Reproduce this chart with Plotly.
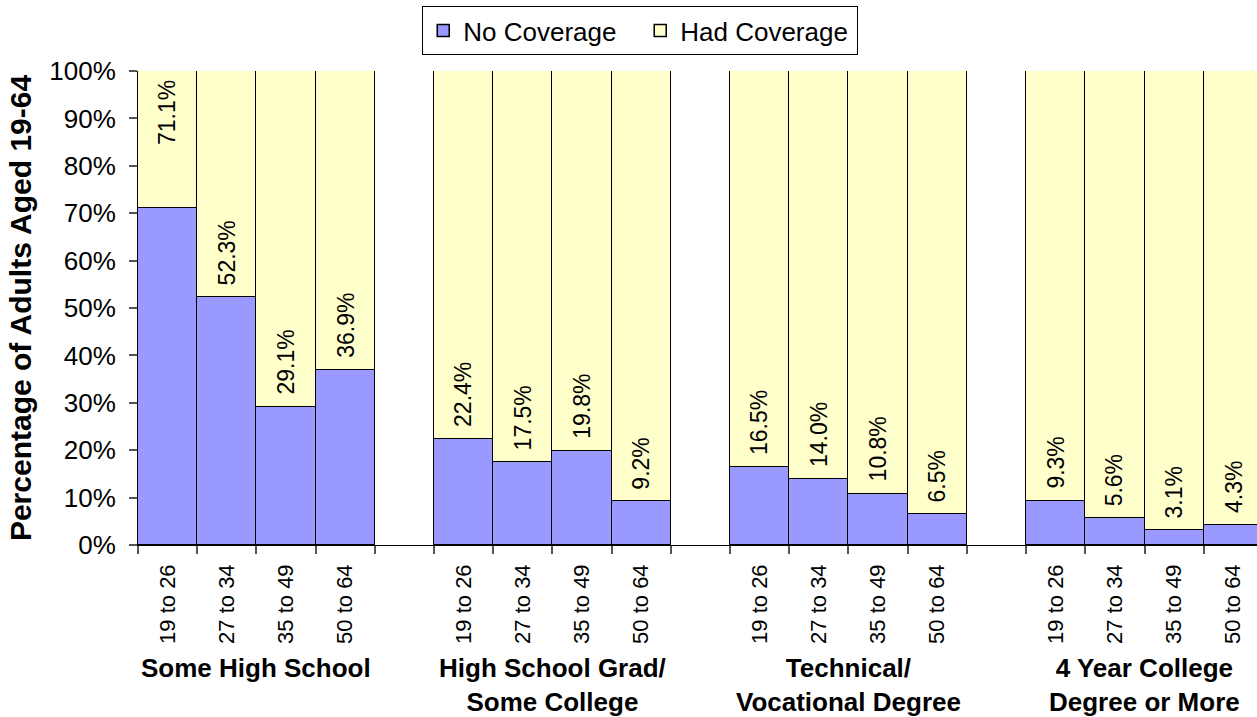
"""Health coverage by education and age group - stacked bars"""

import plotly.graph_objects as go

FONT = "Arial, 'Liberation Sans', sans-serif"

# Data
groups = [
    "Some High School",
    "High School Grad/<br>Some College",
    "Technical/<br>Vocational Degree",
    "4 Year College<br>Degree or More",
]
age_bands = ["19 to 26", "27 to 34", "35 to 49", "50 to 64"]
no_coverage = [
    [71.1, 52.3, 29.1, 36.9],
    [22.4, 17.5, 19.8, 9.2],
    [16.5, 14.0, 10.8, 6.5],
    [9.3, 5.6, 3.1, 4.3],
]

BLUE = "#9999FF"
YELLOW = "#FFFFCC"

# each group gets 4 slots plus one empty slot as spacer
slot = len(age_bands) + 1
xs, labels, vals = [], [], []
for g, row in enumerate(no_coverage):
    for i, v in enumerate(row):
        xs.append(g * slot + i)
        labels.append(age_bands[i])
        vals.append(v)
had = [100 - v for v in vals]

boundaries = sorted({x - 0.5 for x in xs} | {x + 0.5 for x in xs})

fig = go.Figure()
fig.add_trace(go.Bar(
    x=xs, y=vals, width=1, name="No Coverage",
    marker=dict(color=BLUE, line=dict(color="black", width=1.5)),
))
fig.add_trace(go.Bar(
    x=xs, y=had, width=1, name="Had Coverage",
    marker=dict(color=YELLOW, line=dict(color="black", width=1.5)),
))

# value labels just above the blue segment (first one sits higher, as in source)
for k, (x, v) in enumerate(zip(xs, vals)):
    fig.add_annotation(
        x=x, y=v, text=f"{v:.1f}%", textangle=-90, showarrow=False,
        yanchor="bottom", yshift=61 if k == 0 else 10,
        font=dict(family=FONT, size=23, color="black"),
    )

# group names under the age labels
for g, name in enumerate(groups):
    fig.add_annotation(
        x=g * slot + (len(age_bands) - 1) / 2, y=-0.224, yref="paper",
        text=f"<b>{name}</b>", showarrow=False, yanchor="top",
        font=dict(family=FONT, size=26, color="black"),
    )

x_range = [-0.5, 18.4]

fig.update_layout(
    width=1257, height=717,
    margin=dict(l=138, r=0, t=71, b=172),
    barmode="stack", bargap=0,
    paper_bgcolor="white", plot_bgcolor="white",
    font=dict(family=FONT, color="black"),
    showlegend=True,
    legend=dict(
        orientation="h", traceorder="normal",
        x=0.254, xanchor="left", y=1.137, yanchor="top",
        bordercolor="black", borderwidth=1,
        entrywidth=172,
        font=dict(family=FONT, size=26),
    ),
    xaxis=dict(
        range=x_range, tickvals=boundaries, showticklabels=False,
        ticks="outside", ticklen=8, tickcolor="#555", tickwidth=1.5,
        showline=True, linecolor="black", linewidth=1,
        showgrid=False, zeroline=False,
    ),
    xaxis2=dict(
        overlaying="x", anchor="y", side="bottom", range=x_range,
        tickvals=xs, ticktext=labels, tickangle=-90, ticks="",
        ticklabelstandoff=14, showline=False, showgrid=False, zeroline=False,
        tickfont=dict(family=FONT, size=22),
    ),
    yaxis=dict(
        range=[0, 100], dtick=10, ticksuffix="%",
        ticks="outside", ticklen=8, tickcolor="#555", tickwidth=1.5,
        showline=True, linecolor="black", linewidth=1,
        showgrid=False, zeroline=False, ticklabelstandoff=8,
        tickfont=dict(family=FONT, size=26),
        title=dict(text="<b>Percentage of Adults Aged 19-64</b>",
                   font=dict(family=FONT, size=30), standoff=8),
    ),
)

# dummy trace to put the age labels on xaxis2
fig.add_trace(go.Scatter(x=[xs[0]], y=[0], xaxis="x2", mode="markers",
                         marker=dict(opacity=0), showlegend=False,
                         hoverinfo="skip"))

fig.write_html("out.html", config={"displayModeBar": False},
               post_script="document.body.style.margin='0';")
